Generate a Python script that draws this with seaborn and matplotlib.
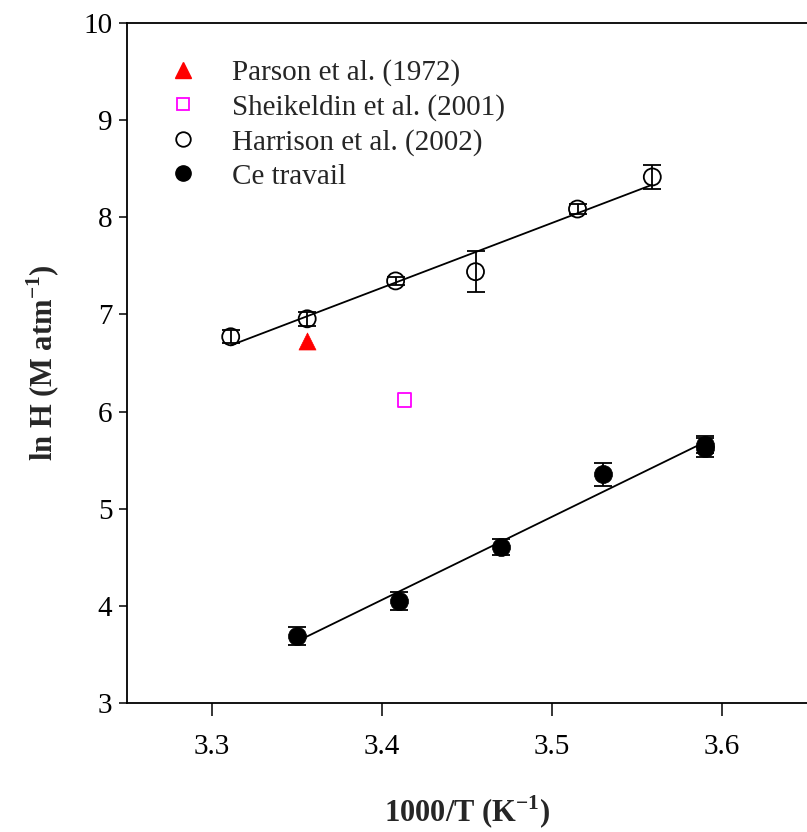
import numpy as np
import pandas as pd
import matplotlib
matplotlib.use("Agg")
import matplotlib.pyplot as plt
import seaborn as sns
from matplotlib.lines import Line2D

# Henry's law constants vs inverse temperature
parson_x = [3.356]
parson_y = [6.73]

sheikeldin_x = [3.413]
sheikeldin_y = [6.12]

harrison_x = [3.311, 3.356, 3.408, 3.455, 3.515, 3.559]
harrison_y = [6.77, 6.955, 7.345, 7.44, 8.085, 8.415]
harrison_err = [0.067, 0.07, 0.04, 0.21, 0.05, 0.12]

travail_x = [3.35, 3.41, 3.47, 3.53, 3.59, 3.59]
travail_y = [3.69, 4.05, 4.605, 5.355, 5.66, 5.63]
travail_err = [0.09, 0.09, 0.085, 0.12, 0.09, 0.10]

labels = ["Parson et al. (1972)", "Sheikeldin et al. (2001)",
          "Harrison et al. (2002)", "Ce travail"]

sns.set_style("ticks")
plt.rcParams["font.family"] = ["Liberation Serif", "DejaVu Serif"]
plt.rcParams["mathtext.fontset"] = "custom"
plt.rcParams["mathtext.rm"] = "Liberation Serif"
plt.rcParams["mathtext.bf"] = "Liberation Serif:bold"

fig = plt.figure(figsize=(8.07, 8.32), dpi=100)
ax = fig.add_axes([127 / 807, 1 - 703 / 832, 1 - 127 / 807, (703 - 23) / 832])

harrison = pd.DataFrame({"x": harrison_x, "y": harrison_y})
travail = pd.DataFrame({"x": travail_x, "y": travail_y})

# Linear fits
for df in (harrison, travail):
    sns.regplot(data=df, x="x", y="y", ax=ax, scatter=False, ci=None,
                truncate=True, line_kws=dict(color="black", lw=1.3, zorder=2))

# Error bars
ax.errorbar(harrison_x, harrison_y, yerr=harrison_err, fmt="none",
            ecolor="black", elinewidth=1.3, capsize=6.5, capthick=1.3, zorder=3)
ax.errorbar(travail_x, travail_y, yerr=travail_err, fmt="none",
            ecolor="black", elinewidth=1.3, capsize=6.5, capthick=1.3, zorder=3)

# Points
sns.scatterplot(x=parson_x, y=parson_y, ax=ax, marker="^", s=150,
                color="#ff0000", edgecolor="#ff0000", linewidth=0.5, zorder=4)
sns.scatterplot(x=sheikeldin_x, y=sheikeldin_y, ax=ax, marker="s", s=90,
                facecolor="none", edgecolor="#ff00ff", linewidth=1.3, zorder=4)
sns.scatterplot(x=harrison_x, y=harrison_y, ax=ax, marker="o", s=150,
                facecolor="none", edgecolor="black", linewidth=1.3, zorder=4)
sns.scatterplot(x=travail_x, y=travail_y, ax=ax, marker="o", s=170,
                color="black", edgecolor="black", linewidth=0.5, zorder=4)

ax.set_xlim(3.25, 3.65)
ax.set_ylim(3, 10)
ax.set_xticks([3.3, 3.4, 3.5, 3.6])
ax.set_yticks(range(3, 11))
ax.tick_params(axis="x", direction="out", length=9, width=1.1, pad=13,
               labelsize=21, colors="black")
ax.tick_params(axis="y", direction="out", length=5.5, width=1.1, pad=5,
               labelsize=21, colors="black")
for side in ("left", "bottom", "top"):
    ax.spines[side].set_linewidth(1.3)
    ax.spines[side].set_color("black")
ax.spines["right"].set_visible(False)

ax.set_xlabel(r"1000/T (K$^{\mathbf{-1}}$)", fontsize=22, fontweight="bold", labelpad=25)
ax.set_ylabel(r"ln H (M atm$^{\mathbf{-1}}$)", fontsize=22, fontweight="bold", labelpad=15)

handles = [
    Line2D([], [], ls="none", marker="^", ms=11, color="#ff0000"),
    Line2D([], [], ls="none", marker="s", ms=9, mfc="none", mec="#ff00ff", mew=1.3),
    Line2D([], [], ls="none", marker="o", ms=10.5, mfc="none", mec="black", mew=1.3),
    Line2D([], [], ls="none", marker="o", ms=11, color="black"),
]
ax.legend(handles, labels, loc="upper left", bbox_to_anchor=(0.024, 0.972),
          frameon=False, fontsize=21, handlelength=1.5, handletextpad=0.95,
          labelspacing=0.26, borderaxespad=0.2)

fig.savefig("out.png", dpi=100)
